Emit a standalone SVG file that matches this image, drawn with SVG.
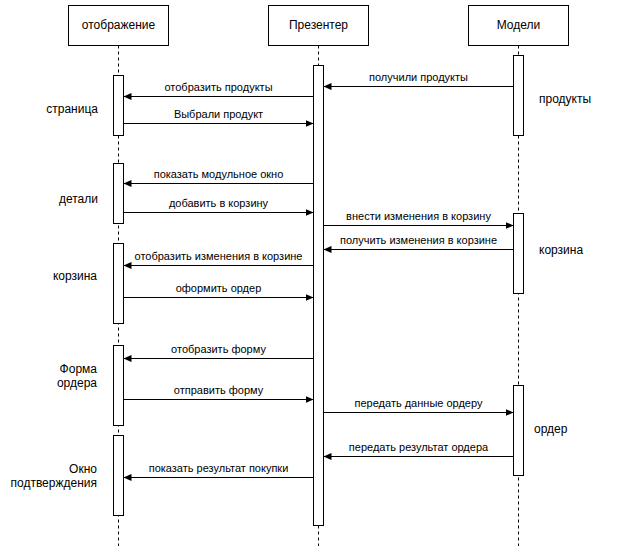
<svg xmlns="http://www.w3.org/2000/svg" width="638" height="551" viewBox="0 0 638 551">
<style>
.box{fill:#fff;stroke:#000;stroke-width:1}
.life{stroke:#000;stroke-width:1;stroke-dasharray:3 3;fill:none}
.msg{stroke:#000;stroke-width:1;fill:none;marker-end:url(#arr)}
.t{font-family:"Liberation Sans",Arial,sans-serif;fill:#000}
.h{font-size:12px;text-anchor:middle}
.m{font-size:11px;text-anchor:middle}
.s{font-size:12px}
.r{text-anchor:end}
</style>
<defs>
<marker id="arr" markerUnits="userSpaceOnUse" markerWidth="10" markerHeight="10" refX="8" refY="4" orient="auto">
<path d="M0,0.5 L8,4 L0,7.5 z" fill="#000"/>
</marker>
</defs>
<rect width="638" height="551" fill="#fff"/>
<g id="lifelines">
<line class="life" x1="118.5" y1="45.5" x2="118.5" y2="546"/>
<line class="life" x1="318.5" y1="45.5" x2="318.5" y2="546"/>
<line class="life" x1="518.5" y1="45.5" x2="518.5" y2="546"/>
</g>
<g id="view">
<rect class="box" x="68.5" y="5.5" width="100" height="40"/>
<text class="t h" x="118.5" y="29">отображение</text>
</g>
<g id="presenter">
<rect class="box" x="268.5" y="5.5" width="100" height="40"/>
<text class="t h" x="318.5" y="29">Презентер</text>
</g>
<g id="models">
<rect class="box" x="468.5" y="5.5" width="100" height="40"/>
<text class="t h" x="518.5" y="29">Модели</text>
</g>
<g id="presenter-activation">
<rect class="box" x="313.5" y="65.5" width="10" height="460"/>
</g>
<g id="page">
<rect class="box" x="113.5" y="75.5" width="10" height="60"/>
<text class="t s r" x="98" y="113">страница</text>
</g>
<g id="details">
<rect class="box" x="113.5" y="163.5" width="10" height="60"/>
<text class="t s r" x="98" y="203">детали</text>
</g>
<g id="cart-view">
<rect class="box" x="113.5" y="243.5" width="10" height="80"/>
<text class="t s r" x="97" y="280">корзина</text>
</g>
<g id="order-form">
<rect class="box" x="113.5" y="345.5" width="10" height="80"/>
<text class="t s r" x="97" y="373">Форма</text>
<text class="t s r" x="97" y="387">ордера</text>
</g>
<g id="confirm">
<rect class="box" x="113.5" y="435.5" width="10" height="80"/>
<text class="t s r" x="97" y="473">Окно</text>
<text class="t s r" x="97" y="487">подтверждения</text>
</g>
<g id="products-model">
<rect class="box" x="513.5" y="55.5" width="10" height="80"/>
<text class="t s" x="539" y="103">продукты</text>
</g>
<g id="cart-model">
<rect class="box" x="513.5" y="213.5" width="10" height="80"/>
<text class="t s" x="539" y="254">корзина</text>
</g>
<g id="order-model">
<rect class="box" x="513.5" y="385.5" width="10" height="90"/>
<text class="t s" x="534" y="433">ордер</text>
</g>
<g id="connectors">
<line class="msg" x1="513.5" y1="86.5" x2="323.5" y2="86.5"/>
<text class="t m" x="418.5" y="81">получили продукты</text>
<line class="msg" x1="313.5" y1="96.5" x2="123.5" y2="96.5"/>
<text class="t m" x="218.5" y="91">отобразить продукты</text>
<line class="msg" x1="123.5" y1="123.5" x2="313.5" y2="123.5"/>
<text class="t m" x="218.5" y="118">Выбрали продукт</text>
<line class="msg" x1="313.5" y1="183.5" x2="123.5" y2="183.5"/>
<text class="t m" x="218.5" y="178">показать модульное окно</text>
<line class="msg" x1="123.5" y1="212.5" x2="313.5" y2="212.5"/>
<text class="t m" x="218.5" y="207">добавить в корзину</text>
<line class="msg" x1="323.5" y1="225.5" x2="513.5" y2="225.5"/>
<text class="t m" x="418.5" y="220">внести изменения в корзину</text>
<line class="msg" x1="513.5" y1="249.5" x2="323.5" y2="249.5"/>
<text class="t m" x="418.5" y="244">получить изменения в корзине</text>
<line class="msg" x1="313.5" y1="265.5" x2="123.5" y2="265.5"/>
<text class="t m" x="218.5" y="260">отобразить изменения в корзине</text>
<line class="msg" x1="123.5" y1="297.5" x2="313.5" y2="297.5"/>
<text class="t m" x="218.5" y="292">оформить ордер</text>
<line class="msg" x1="313.5" y1="358.5" x2="123.5" y2="358.5"/>
<text class="t m" x="218.5" y="353">отобразить форму</text>
<line class="msg" x1="123.5" y1="399.5" x2="313.5" y2="399.5"/>
<text class="t m" x="218.5" y="394">отправить форму</text>
<line class="msg" x1="323.5" y1="412.5" x2="513.5" y2="412.5"/>
<text class="t m" x="418.5" y="407">передать данные ордеру</text>
<line class="msg" x1="513.5" y1="456.5" x2="323.5" y2="456.5"/>
<text class="t m" x="418.5" y="451">передать результат ордера</text>
<line class="msg" x1="313.5" y1="477.5" x2="123.5" y2="477.5"/>
<text class="t m" x="218.5" y="472">показать результат покупки</text>
</g>
</svg>
